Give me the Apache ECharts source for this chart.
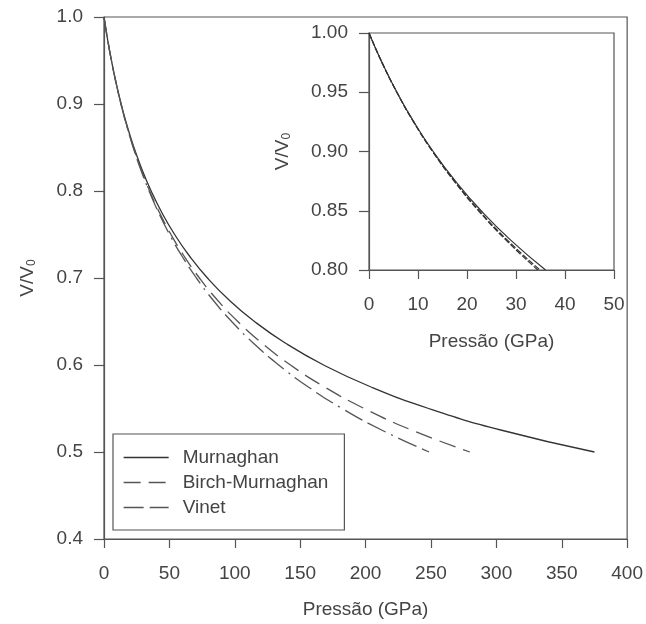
<!DOCTYPE html>
<html>
<head>
<meta charset="utf-8">
<script src="https://cdn.jsdelivr.net/npm/echarts@6/dist/echarts.min.js"></script>
<style>
html,body{margin:0;padding:0;background:#fff;}
#chart{width:646px;height:624px;}
</style>
</head>
<body>
<div id="chart"></div>
<script>
// V/V0 values (shared by all curves)
const volume = [1.000, 0.975, 0.950, 0.925, 0.900, 0.875, 0.850, 0.825, 0.800, 0.775, 0.750,
                0.725, 0.700, 0.675, 0.650, 0.625, 0.600, 0.575, 0.550, 0.525, 0.500];
// Pressure (GPa) read for each V/V0 value
const pMurnaghan = [0, 2.66, 5.69, 9.15, 13.10, 17.65, 22.89, 28.97, 36.04, 44.30, 54.01,
                    65.49, 79.12, 95.43, 115.06, 138.84, 167.90, 203.71, 248.23, 304.09, 375.0];
const pBirch = [0, 2.66, 5.68, 9.11, 13.01, 17.45, 22.51, 28.29, 34.89, 42.50, 51.22,
                61.30, 72.96, 86.51, 102.31, 120.82, 142.58, 168.33, 198.94, 235.57, 279.73];
const pVinet = [0, 2.66, 5.68, 9.10, 12.97, 17.37, 22.35, 28.01, 34.45, 41.79, 50.15,
                59.70, 70.64, 83.19, 97.63, 114.29, 133.57, 155.96, 182.06, 212.63, 248.58];

const seriesNames = ['Murnaghan', 'Birch-Murnaghan', 'Vinet'];
const pressures = [pMurnaghan, pBirch, pVinet];
const lineColors = ['#333333', '#555555', '#555555'];
const lineTypes = ['solid', [17, 8], [20, 6, 20, 6, 2, 6]];

// Axis ticks
const mainXTicks = {min: 0, max: 400, interval: 50};
const mainYTicks = {min: 0.4, max: 1.0, interval: 0.1};
const insetXTicks = {min: 0, max: 50, interval: 10};
const insetYTicks = {min: 0.8, max: 1.0, interval: 0.05};

const FONT = 'Liberation Sans, Arial, Helvetica, sans-serif';
const TXT = '#444444';
const AX = '#555555';
const FS = 19;

function pairs(p, limitV) {
  const out = [];
  for (let i = 0; i < volume.length; i++) {
    if (limitV === undefined || volume[i] >= limitV - 1e-9) out.push([p[i], volume[i]]);
  }
  return out;
}

function xAxisDef(grid, t, nameGap, margin) {
  return {
    type: 'value', gridIndex: grid, min: t.min, max: t.max, interval: t.interval,
    name: 'Pressão (GPa)', nameLocation: 'middle', nameGap: nameGap,
    nameTextStyle: {fontFamily: FONT, fontSize: FS, color: TXT},
    axisLine: {show: true, lineStyle: {color: AX, width: 1.2}},
    axisTick: {show: true, inside: false, length: 9, lineStyle: {color: AX, width: 1.2}},
    axisLabel: {fontFamily: FONT, fontSize: FS, color: TXT, margin: margin},
    splitLine: {show: false}
  };
}
function yAxisDef(grid, t, digits, nameGap) {
  return {
    type: 'value', gridIndex: grid, min: t.min, max: t.max, interval: t.interval,
    name: 'V/V{sub|0}', nameLocation: 'middle', nameGap: nameGap, nameRotate: 90,
    nameTextStyle: {fontFamily: FONT, fontSize: FS, color: TXT,
      rich: {sub: {fontFamily: FONT, fontSize: 12, color: TXT, verticalAlign: 'bottom', padding: [8, 0, 0, 0]}}},
    axisLine: {show: true, lineStyle: {color: AX, width: 1.2}},
    axisTick: {show: true, inside: false, length: 10, lineStyle: {color: AX, width: 1.2}},
    axisLabel: {fontFamily: FONT, fontSize: FS, color: TXT, margin: 21,
      formatter: v => v.toFixed(digits)},
    splitLine: {show: false}
  };
}

const series = [];
for (let k = 0; k < 3; k++) {
  series.push({
    name: seriesNames[k], type: 'line', xAxisIndex: 0, yAxisIndex: 0,
    data: pairs(pressures[k]), smooth: true, showSymbol: false, symbol: 'none',
    lineStyle: {color: lineColors[k], width: 1.3, type: lineTypes[k]},
    itemStyle: {color: lineColors[k]}, silent: true, animation: false
  });
}
for (let k = 0; k < 3; k++) {
  series.push({
    name: seriesNames[k], type: 'line', xAxisIndex: 1, yAxisIndex: 1,
    data: pairs(pressures[k], insetYTicks.min), smooth: true, showSymbol: false, symbol: 'none',
    lineStyle: {color: '#333333', width: 1.2, type: k === 0 ? 'solid' : [6, 2]},
    itemStyle: {color: lineColors[k]}, silent: true, animation: false
  });
}

const chart = echarts.init(document.getElementById('chart'), null, {renderer: 'canvas'});
chart.setOption({
  backgroundColor: '#ffffff',
  animation: false,
  grid: [
    {left: 104, top: 17, width: 524, height: 526, show: true, borderColor: AX, borderWidth: 1.2, backgroundColor: 'transparent'},
    {left: 369, top: 33, width: 245, height: 237, show: true, borderColor: AX, borderWidth: 1.2, backgroundColor: 'transparent'}
  ],
  xAxis: [xAxisDef(0, mainXTicks, 61, 25), xAxisDef(1, insetXTicks, 62, 25)],
  yAxis: [yAxisDef(0, mainYTicks, 1, 66), yAxisDef(1, insetYTicks, 2, 76)],
  legend: {
    data: seriesNames,
    orient: 'vertical', left: 113, top: 434,
    itemWidth: 45, itemHeight: 14, itemGap: 6,
    padding: [14, 16, 13, 10],
    borderColor: AX, borderWidth: 1.2, backgroundColor: '#fff',
    itemStyle: {opacity: 0, borderWidth: 0},
    lineStyle: {width: 1.3},
    textStyle: {fontFamily: FONT, fontSize: FS, color: TXT, padding: [0, 0, 0, 9]},
    selectedMode: false
  },
  series: series
});
</script>
</body>
</html>
